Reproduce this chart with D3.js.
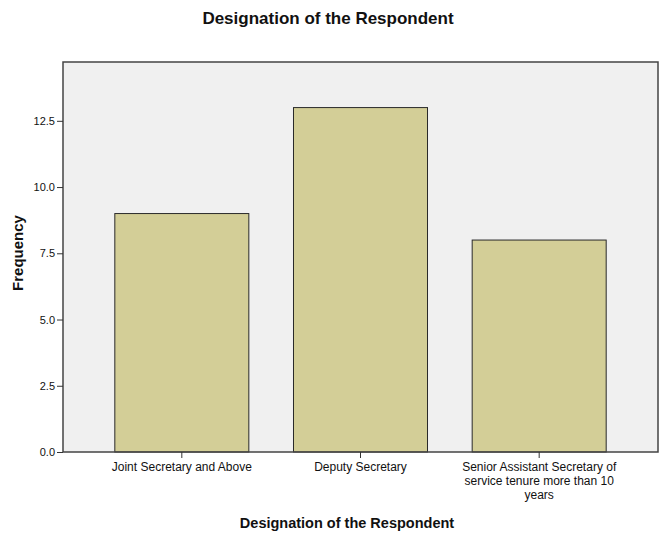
<!DOCTYPE html>
<html>
<head>
<meta charset="utf-8">
<script src="https://cdn.jsdelivr.net/npm/d3@7"></script>
<style>
  body { margin: 0; background: #fff; }
  text { font-family: "Liberation Sans", Arial, sans-serif; fill: #111; }
</style>
</head>
<body>
<svg id="chart"></svg>
<script>
// Designation of the Respondent - frequency bar chart
var categories = ["Joint Secretary and Above", "Deputy Secretary", "Senior Assistant Secretary of service tenure more than 10 years"];
var labelLines = [["Joint Secretary and Above"], ["Deputy Secretary"], ["Senior Assistant Secretary of", "service tenure more than 10", "years"]];
var frequency = [9, 13, 8];
var yTicks = [0, 2.5, 5, 7.5, 10, 12.5];

var width = 661,
    height = 539;
var margin = {top: 62, right: 3, bottom: 87, left: 63};

var svg = d3.select("#chart")
    .attr("width", width)
    .attr("height", height);

var x = d3.scaleBand()
    .domain(categories)
    .range([margin.left, width - margin.right])
    .paddingInner(0.25)
    .paddingOuter(0.29);

var y = d3.scaleLinear()
    .domain([0, 14.72])
    .range([height - margin.bottom, margin.top]);

// plot background
svg.append("rect")
    .attr("x", margin.left)
    .attr("y", margin.top)
    .attr("width", width - margin.right - margin.left)
    .attr("height", height - margin.bottom - margin.top)
    .attr("fill", "#f0f0f0");

svg.append("g")
  .selectAll("rect")
  .data(frequency)
  .enter().append("rect")
    .attr("x", function(d, i) { return x(categories[i]); })
    .attr("y", function(d) { return y(d); })
    .attr("width", x.bandwidth())
    .attr("height", function(d) { return y(0) - y(d); })
    .attr("fill", "#d3ce97")
    .attr("stroke", "#2a2a2a")
    .attr("stroke-width", 1);

// frame
svg.append("rect")
    .attr("x", margin.left)
    .attr("y", margin.top)
    .attr("width", width - margin.right - margin.left)
    .attr("height", height - margin.bottom - margin.top)
    .attr("fill", "none")
    .attr("stroke", "#444")
    .attr("stroke-width", 1.5);

var yAxis = d3.axisLeft(y)
    .tickValues(yTicks)
    .tickFormat(d3.format(".1f"))
    .tickSize(6)
    .tickPadding(2);

var gy = svg.append("g")
    .attr("transform", "translate(" + margin.left + ",0)")
    .call(yAxis);
gy.select(".domain").remove();
gy.selectAll("text").style("font-size", "11px").attr("fill", "#222");
gy.selectAll("line").attr("stroke", "#333");

var xAxis = d3.axisBottom(x)
    .tickSize(6)
    .tickFormat("");

var gx = svg.append("g")
    .attr("transform", "translate(0," + (height - margin.bottom) + ")")
    .call(xAxis);
gx.select(".domain").remove();
gx.selectAll("line").attr("stroke", "#333");

gx.selectAll(".tick").each(function(d, i) {
  var t = d3.select(this).append("text")
      .attr("text-anchor", "middle")
      .attr("y", 19)
      .style("font-size", "12px")
      .attr("fill", "#222");
  labelLines[i].forEach(function(line, j) {
    t.append("tspan").attr("x", 0).attr("dy", j === 0 ? 0 : 13.8).text(line);
  });
});

// titles
svg.append("text")
    .attr("x", 328)
    .attr("y", 24)
    .attr("text-anchor", "middle")
    .style("font-size", "17px")
    .style("font-weight", "bold")
    .text("Designation of the Respondent");

svg.append("text")
    .attr("x", 347)
    .attr("y", 528)
    .attr("text-anchor", "middle")
    .style("font-size", "14.5px")
    .style("font-weight", "bold")
    .text("Designation of the Respondent");

svg.append("text")
    .attr("transform", "translate(23,253) rotate(-90)")
    .attr("text-anchor", "middle")
    .style("font-size", "15px")
    .style("font-weight", "bold")
    .text("Frequency");
</script>
</body>
</html>
